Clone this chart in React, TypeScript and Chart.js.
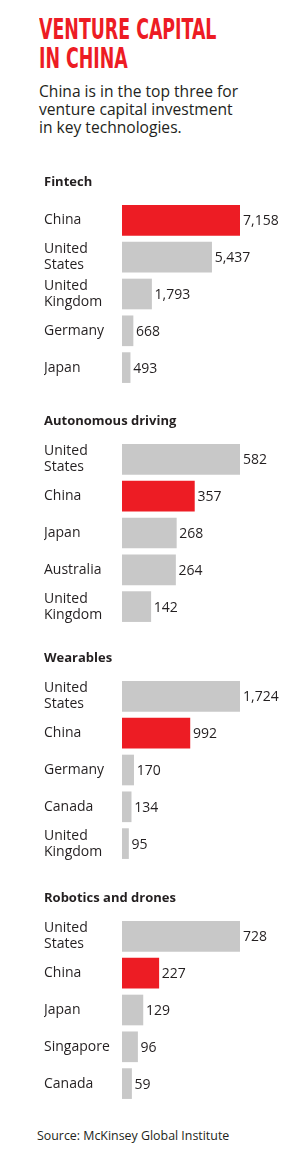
import React, { useEffect, useRef } from "react";
import { Chart, registerables } from "chart.js";

Chart.register(...registerables);

const mainTitle = ["VENTURE CAPITAL", "IN CHINA"];
const subtitle = ["China is in the top three for", "venture capital investment", "in key technologies."];
const sourceText = "Source: McKinsey Global Institute";

const panelTitles = ["Fintech", "Autonomous driving", "Wearables", "Robotics and drones"];

const fintechCountries = ["China", "United States", "United Kingdom", "Germany", "Japan"];
const fintechValues = [7158, 5437, 1793, 668, 493];

const autoCountries = ["United States", "China", "Japan", "Australia", "United Kingdom"];
const autoValues = [582, 357, 268, 264, 142];

const wearCountries = ["United States", "China", "Germany", "Canada", "United Kingdom"];
const wearValues = [1724, 992, 170, 134, 95];

const roboCountries = ["United States", "China", "Japan", "Singapore", "Canada"];
const roboValues = [728, 227, 129, 96, 59];

const RED = "#ed1c24";
const GRAY = "#c8c8c8";
const TEXT = "#231f20";
const FONT = "'Open Sans', sans-serif";
const TITLE_FONT = "'Liberation Sans Narrow', 'DejaVu Sans Condensed', sans-serif";

const splitLabel = (c: string) => (c.startsWith("United ") ? c.split(" ") : c);

const valueLabels = {
  id: "valueLabels",
  afterDatasetsDraw(chart: any) {
    const ctx = chart.ctx;
    const meta = chart.getDatasetMeta(0);
    const data = chart.data.datasets[0].data as number[];
    ctx.save();
    ctx.font = `14px ${FONT}`;
    ctx.fillStyle = TEXT;
    ctx.textBaseline = "middle";
    ctx.textAlign = "left";
    meta.data.forEach((bar: any, i: number) => {
      ctx.fillText(Number(data[i]).toLocaleString("en-US"), bar.x + 3, bar.y + 1);
    });
    ctx.restore();
  },
};

function Panel({ title, countries, values, top }: { title: string; countries: string[]; values: number[]; top: number }) {
  const ref = useRef<HTMLCanvasElement>(null);
  useEffect(() => {
    const chart = new Chart(ref.current as HTMLCanvasElement, {
      type: "bar",
      data: {
        labels: countries.map(splitLabel),
        datasets: [
          {
            data: values,
            backgroundColor: countries.map((c) => (c === "China" ? RED : GRAY)),
            borderWidth: 0,
            barThickness: 30,
          },
        ],
      },
      options: {
        indexAxis: "y",
        animation: false,
        responsive: false,
        maintainAspectRatio: false,
        devicePixelRatio: 1,
        layout: { padding: { left: 0, right: 62, top: 0, bottom: 0 } },
        plugins: {
          legend: { display: false },
          tooltip: { enabled: false },
          title: {
            display: true,
            text: title,
            align: "start",
            color: TEXT,
            font: { family: FONT, size: 13, weight: "bold", lineHeight: 18 / 13 },
            padding: { top: 8, bottom: 11 },
          },
        },
        scales: {
          x: { display: false, min: 0, max: Math.max(...values) },
          y: {
            grid: { display: false },
            border: { display: false },
            ticks: {
              crossAlign: "far",
              color: TEXT,
              padding: 0,
              font: { family: FONT, size: 14, lineHeight: 1.15 },
            },
            afterFit: (s: any) => {
              s.width = 78;
              s.paddingTop = 0;
              s.paddingBottom = 0;
            },
          },
        },
      } as any,
      plugins: [valueLabels],
    });
    return () => chart.destroy();
  }, []);
  return (
    <canvas
      ref={ref}
      width={258}
      height={221}
      style={{ position: "absolute", left: 44, top, width: 258, height: 221 }}
    />
  );
}

export default function App() {
  const panelTops = [165, 404, 641, 881];
  return (
    <div style={{ position: "absolute", left: 0, top: 0, width: 302, height: 1152, background: "#fff", overflow: "hidden" }}>
      <div
        style={{
          position: "absolute",
          left: 39,
          top: 15,
          fontFamily: TITLE_FONT,
          fontWeight: "bold",
          fontSize: 28,
          lineHeight: "29px",
          color: RED,
          whiteSpace: "nowrap",
          transform: "scaleX(0.69)",
          transformOrigin: "left top",
        }}
      >
        {mainTitle.map((l) => (
          <div key={l}>{l}</div>
        ))}
      </div>
      <div
        style={{
          position: "absolute",
          left: 39,
          top: 82,
          fontFamily: FONT,
          fontSize: 15.6,
          lineHeight: "18px",
          color: TEXT,
          whiteSpace: "nowrap",
        }}
      >
        {subtitle.map((l) => (
          <div key={l}>{l}</div>
        ))}
      </div>
      <Panel title={panelTitles[0]} countries={fintechCountries} values={fintechValues} top={panelTops[0]} />
      <Panel title={panelTitles[1]} countries={autoCountries} values={autoValues} top={panelTops[1]} />
      <Panel title={panelTitles[2]} countries={wearCountries} values={wearValues} top={panelTops[2]} />
      <Panel title={panelTitles[3]} countries={roboCountries} values={roboValues} top={panelTops[3]} />
      <div
        style={{
          position: "absolute",
          left: 37,
          top: 1128,
          fontFamily: FONT,
          fontSize: 12.4,
          lineHeight: "16px",
          color: TEXT,
          whiteSpace: "nowrap",
        }}
      >
        {sourceText}
      </div>
    </div>
  );
}
